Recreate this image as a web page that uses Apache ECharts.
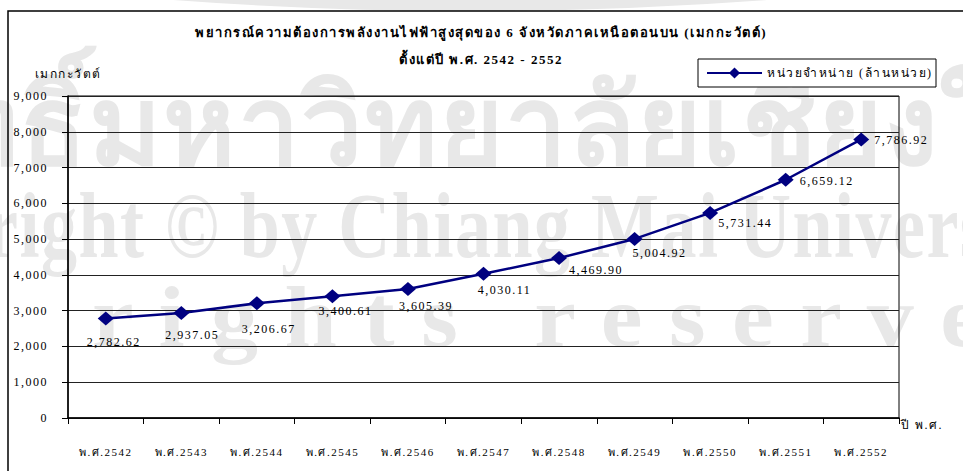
<!DOCTYPE html>
<html>
<head>
<meta charset="utf-8">
<script src="https://cdn.jsdelivr.net/npm/echarts@6/dist/echarts.min.js"></script>
<style>
html,body{margin:0;padding:0;background:#fff}
#c{width:963px;height:471px;letter-spacing:1.5px}
</style>
</head>
<body>
<div id="c"></div>
<script>
var categories = ['พ.ศ.2542','พ.ศ.2543','พ.ศ.2544','พ.ศ.2545','พ.ศ.2546','พ.ศ.2547','พ.ศ.2548','พ.ศ.2549','พ.ศ.2550','พ.ศ.2551','พ.ศ.2552'];
var seriesName = 'หน่วยจำหน่าย (ล้านหน่วย)';
var values = [2782.62, 2937.05, 3206.67, 3400.61, 3605.39, 4030.11, 4469.90, 5004.92, 5731.44, 6659.12, 7786.92];
var titleLine1 = 'พยากรณ์ความต้องการพลังงานไฟฟ้าสูงสุดของ 6 จังหวัดภาคเหนือตอนบน (เมกกะวัตต์)';
var titleLine2 = 'ตั้งแต่ปี พ.ศ. 2542 - 2552';
var yName = 'เมกกะวัตต์';
var xName = 'ปี พ.ศ.';
var watermark1 = 'ลิขสิทธิ์มหาวิทยาลัยเชียงใหม่';
var watermark2 = 'Copyright © by Chiang Mai University';
var watermark3 = 'r i g h t s   r e s e r v e d';

// label placement relative to each point (style only)
var labelOffsets = [[8,24],[11,22],[12,26],[13,15],[18,17],[21,16],[37,12],[25,14],[35,10],[41,1],[40,1]];

var FONT = '"Liberation Serif", "DejaVu Serif", serif';
var WM = '#e8e8e8';
function fmt(v){ return v.toLocaleString('en-US',{minimumFractionDigits:2,maximumFractionDigits:2}); }

var chart = echarts.init(document.getElementById('c'), null, {renderer:'svg'});
chart.setOption({
  animation:false,
  backgroundColor:'#fff',
  graphic:[
    {type:'arc', z:-10, silent:true, shape:{cx:470, cy:-3995, r:4000, startAngle:Math.PI/2-0.09, endAngle:Math.PI/2+0.09}, style:{stroke:WM, lineWidth:12, fill:null}},
    {type:'text', x:-268, y:72, z:-10, silent:true, style:{text:watermark1, font:'bold 110px "Liberation Serif", serif', fill:WM, verticalAlign:'top'}},
    {type:'text', x:-184, y:179, scaleY:1.3, z:-10, silent:true, style:{text:watermark2, font:'bold 72px "Liberation Serif", serif', fill:WM, verticalAlign:'top'}},
    {type:'text', x:92, y:274, scaleY:0.92, z:-10, silent:true, style:{text:watermark3, font:'bold 94px "Liberation Serif", serif', fill:WM, verticalAlign:'top'}},
    {type:'polyline', z:5, silent:true, shape:{points:[[8,471],[8,11],[963,11]]}, style:{stroke:'#000', lineWidth:1.5, fill:null}},
    {type:'text', x:481, y:26, z:5, silent:true, style:{text:titleLine1, font:'bold 13px "Liberation Serif", "DejaVu Serif", serif', fill:'#000', align:'center', verticalAlign:'top'}},
    {type:'text', x:481, y:53, z:5, silent:true, style:{text:titleLine2, font:'bold 13px "Liberation Serif", "DejaVu Serif", serif', fill:'#000', align:'center', verticalAlign:'top'}}
  ],
  legend:{
    right:27, top:59, itemWidth:55, itemHeight:14, itemGap:5,
    borderColor:'#000', borderWidth:1, borderRadius:0, padding:[8,32,8,8],
    backgroundColor:'#fff',
    textStyle:{fontFamily:FONT, fontSize:12, color:'#000'},
    data:[seriesName]
  },
  grid:{left:68, right:64, top:96, bottom:53, containLabel:false, show:true, borderColor:'#000', borderWidth:1, backgroundColor:'transparent'},
  xAxis:{
    type:'category', data:categories, boundaryGap:true,
    name:xName, nameLocation:'end', nameGap:2,
    nameTextStyle:{fontFamily:FONT, fontSize:12, color:'#000', verticalAlign:'top', padding:[1,0,0,0]},
    axisLine:{lineStyle:{color:'#000', width:1.5}},
    axisTick:{show:true, length:6, lineStyle:{color:'#000'}},
    axisLabel:{fontFamily:FONT, fontSize:11, color:'#000', margin:28}
  },
  yAxis:{
    type:'value', min:0, max:9000, interval:1000,
    name:yName, nameLocation:'end', nameGap:16,
    nameTextStyle:{fontFamily:FONT, fontSize:12, color:'#000', align:'center'},
    axisLine:{show:true, lineStyle:{color:'#000', width:1.5}},
    axisTick:{show:true, length:6, lineStyle:{color:'#000'}},
    axisLabel:{fontFamily:FONT, fontSize:12, color:'#000', margin:20, formatter:function(v){return v.toLocaleString('en-US');}},
    splitLine:{show:true, lineStyle:{color:'#222', width:1}}
  },
  series:[{
    name:seriesName, type:'line',
    data:values.map(function(v,i){
      return {value:v, label:{offset:labelOffsets[i]}};
    }),
    color:'#000080',
    lineStyle:{color:'#000080', width:2.5},
    symbol:'diamond', symbolSize:[16,14],
    itemStyle:{color:'#000080'},
    label:{show:true, position:'inside', align:'center', verticalAlign:'middle', fontFamily:FONT, fontSize:12, color:'#000', formatter:function(p){return fmt(p.value);}}
  }]
});
</script>
</body>
</html>
